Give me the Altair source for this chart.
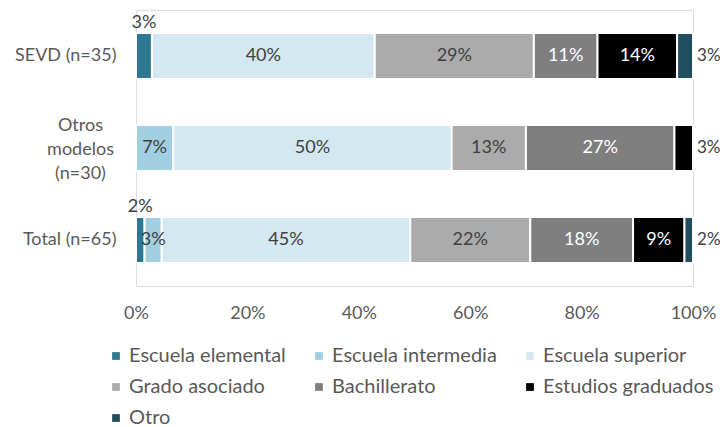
import altair as alt
import pandas as pd

groups = ["SEVD (n=35)", "Otros modelos (n=30)", "Total (n=65)"]
levels = ["Escuela elemental", "Escuela intermedia", "Escuela superior",
          "Grado asociado", "Bachillerato", "Estudios graduados", "Otro"]
sevd = [2.86, 0.0, 40.0, 28.57, 11.43, 14.29, 2.86]
otros = [0.0, 6.67, 50.0, 13.33, 26.67, 3.33, 0.0]
total = [1.54, 3.08, 44.62, 21.54, 18.46, 9.23, 1.54]
colors = ["#2E7891", "#9FCFE0", "#D3E8F1", "#ABABAB", "#7F7F7F", "#000000", "#1F4E5F"]
x_ticks = [0, 0.2, 0.4, 0.6, 0.8, 1.0]

rows = []
for g, vals in zip(groups, [sevd, otros, total]):
    nonzero = [i for i, v in enumerate(vals) if v > 0]
    cum = 0.0
    for i, (lev, v) in enumerate(zip(levels, vals)):
        start = cum
        cum += v
        if v <= 0:
            continue
        if i == nonzero[-1]:
            place = "right"
        elif i == nonzero[0] and v < 5:
            place = "above"
        else:
            place = "in"
        rows.append({
            "group": g, "level": lev, "order": i,
            "val": v / 100, "mid": (start + v / 2) / 100, "end": cum / 100,
            "label": f"{round(v)}%", "place": place,
            "tcolor": "#FFFFFF" if (lev in ("Bachillerato", "Estudios graduados") and place == "in") else "#404040",
        })
df = pd.DataFrame(rows)

FONT = "Lato"
FS = 18
OTROS = "datum.value == 'Otros modelos (n=30)'"
ycat = alt.Y("group:N", sort=groups, title=None,
             scale=alt.Scale(paddingInner=0.5, paddingOuter=0.25),
             axis=alt.Axis(domain=False, ticks=False, labelFontSize=FS, labelFont=FONT,
                           labelColor="#595959", labelLineHeight=24,
                           labelPadding={"condition": {"test": OTROS, "value": 56}, "value": 20},
                           labelAlign={"condition": {"test": OTROS, "value": "center"}, "value": "right"},
                           labelOffset={"condition": {"test": OTROS, "value": -22}, "value": 0},
                           labelExpr=OTROS + " ? ['Otros', 'modelos', '(n=30)'] : datum.label"))

base = alt.Chart(df)

bars = base.mark_bar(stroke="white", strokeWidth=2).encode(
    x=alt.X("val:Q", stack="zero", title=None,
            scale=alt.Scale(domain=[0, 1], nice=False),
            axis=alt.Axis(values=x_ticks, format=".0%", domain=False, ticks=False, grid=False,
                          labelFlush=False, labelFontSize=FS, labelFont=FONT,
                          labelColor="#595959", labelPadding=18)),
    y=ycat,
    color=alt.Color("level:N", sort=levels,
                    scale=alt.Scale(domain=levels, range=colors),
                    legend=alt.Legend(title=None, orient="none", legendX=-30, legendY=336,
                                      direction="horizontal", columns=3, symbolType="square",
                                      symbolSize=60, symbolStrokeWidth=0, labelFontSize=20,
                                      labelFont=FONT, labelColor="#595959", columnPadding=23,
                                      rowPadding=11, labelOffset=3, labelLimit=0)),
    order=alt.Order("order:Q", sort="ascending"),
)

inside = base.transform_filter("datum.place == 'in'").mark_text(
    fontSize=FS, font=FONT).encode(
    x="mid:Q", y=alt.Y("group:N", sort=groups), text="label:N",
    color=alt.Color("tcolor:N", scale=None))

above = base.transform_filter("datum.place == 'above'").mark_text(
    fontSize=FS, font=FONT, dy=-33, color="#404040").encode(
    x="mid:Q", y=alt.Y("group:N", sort=groups), text="label:N")

right = base.transform_filter("datum.place == 'right'").mark_text(
    fontSize=17, font=FONT, dx=4, align="left", color="#404040").encode(
    x="end:Q", y=alt.Y("group:N", sort=groups), text="label:N")

chart = alt.layer(bars, inside, above, right).properties(
    width=557, height=276,
    autosize=alt.AutoSizeParams(type="none"),
    padding={"left": 128, "top": 2, "right": 27, "bottom": 141},
).configure_view(stroke=None).configure(background="white")

chart.save("out.html", embed_options={"renderer": "svg", "actions": False})
